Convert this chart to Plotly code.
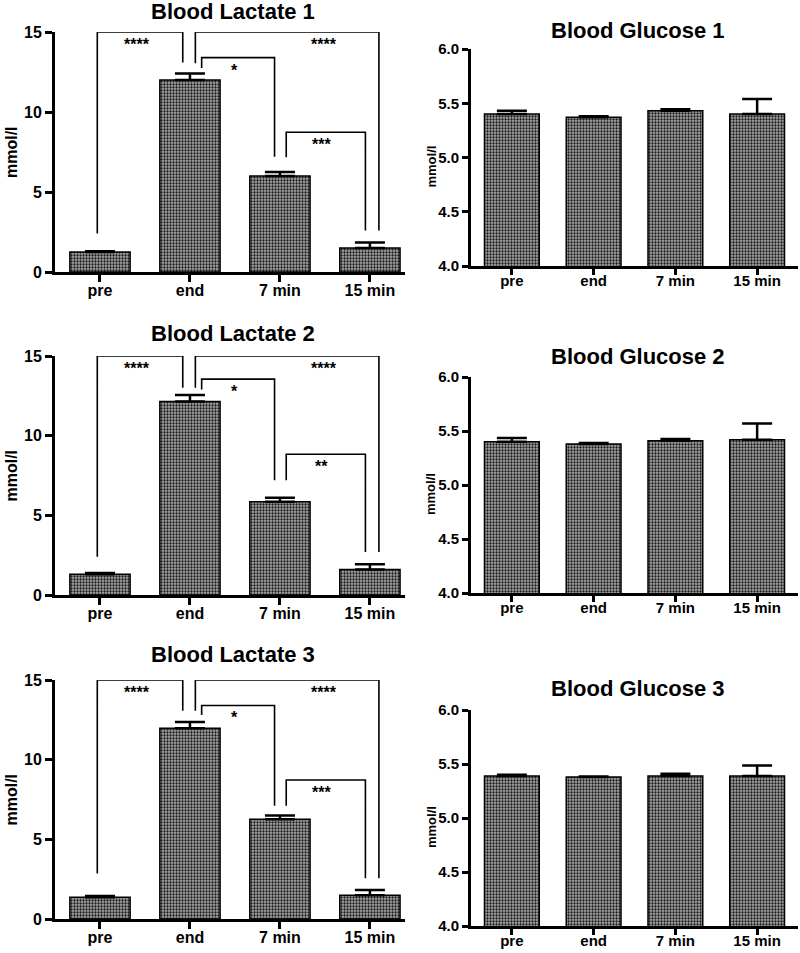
import plotly.graph_objects as go

W, H = 800, 953
categories = ["pre", "end", "7 min", "15 min"]

# ---- data ----
lactate1_mean = [1.25, 12.0, 6.0, 1.5]
lactate1_err = [0.05, 0.4, 0.25, 0.35]
lactate2_mean = [1.3, 12.15, 5.85, 1.6]
lactate2_err = [0.08, 0.4, 0.25, 0.33]
lactate3_mean = [1.36, 11.97, 6.26, 1.49]
lactate3_err = [0.08, 0.4, 0.23, 0.33]

glucose1_mean = [5.40, 5.37, 5.43, 5.40]
glucose1_err = [0.03, 0.01, 0.015, 0.14]
glucose2_mean = [5.40, 5.38, 5.41, 5.42]
glucose2_err = [0.035, 0.01, 0.015, 0.15]
glucose3_mean = [5.39, 5.38, 5.39, 5.39]
glucose3_err = [0.01, 0.005, 0.02, 0.095]

lactate_titles = ["Blood Lactate 1", "Blood Lactate 2", "Blood Lactate 3"]
glucose_titles = ["Blood Glucose 1", "Blood Glucose 2", "Blood Glucose 3"]

lactate_ticks = [0, 5, 10, 15]
glucose_ticks = [4.0, 4.5, 5.0, 5.5, 6.0]

# significance brackets: (left leg x, right leg x) in category units
bracket_legs = [(-0.03, 0.92), (1.06, 3.1), (1.13, 1.94), (2.07, 2.95)]
bracket_label_x = [0.41, 2.49, 1.49, 2.46]
# per row: (top, left end, right end) for each bracket
bracket_levels = [
    [(15, 2.4, 13.1), (15, 13.05, 2.6), (13.4, 12.75, 7.2), (8.73, 7.17, 2.6)],
    [(15, 2.4, 13.0), (15, 13.0, 2.7), (13.55, 12.9, 7.2), (8.83, 7.2, 2.7)],
    [(15, 2.85, 13.07), (15, 13.07, 2.55), (13.4, 12.8, 7.1), (8.72, 7.1, 2.55)],
]
bracket_labels = [
    ["****", "****", "*", "***"],
    ["****", "****", "*", "**"],
    ["****", "****", "*", "***"],
]

lactate_means = [lactate1_mean, lactate2_mean, lactate3_mean]
lactate_errs = [lactate1_err, lactate2_err, lactate3_err]
glucose_means = [glucose1_mean, glucose2_mean, glucose3_mean]
glucose_errs = [glucose1_err, glucose2_err, glucose3_err]

# ---- layout in pixels ----
lac_x = (55, 405)
glu_x = (471, 798)
lac_y = [(32, 272), (356, 595), (680, 919)]
glu_y = [(49, 266), (377, 593), (710, 926)]
lac_title_y = [12, 333, 654]
glu_title_y = [30, 357, 688]

FONT = "Liberation Sans, Arial, sans-serif"

def xd(px):
    return [px[0] / W, px[1] / W]

def yd(px):
    return [1 - px[1] / H, 1 - px[0] / H]

fig = go.Figure()
pattern = dict(shape=".", size=3, solidity=0.45, fgcolor="#1a1a1a", bgcolor="#a8a8a8", fillmode="replace")

annotations = []
shapes = []
layout = {}

for r in range(3):
    ia = 2 * r + 1
    ib = 2 * r + 2
    panels = [
        (ia, lactate_means[r], lactate_errs[r], lac_x, lac_y[r], [0, 15], lactate_ticks, "d",
         lactate_titles[r], lac_title_y[r], 16, 11, 0, 3.39, 16, 16, -5, 7),
        (ib, glucose_means[r], glucose_errs[r], glu_x, glu_y[r], [4, 6], glucose_ticks, ".1f",
         glucose_titles[r], glu_title_y[r], 13, 431, 9, 3.5, 15, 15, -7, 6),
    ]
    for (idx, means, errs, xdom, ydom, yr, ticks, tfmt, title, title_y, ytitle_size, ytitle_x,
         ytitle_dy, xmax, xfs, yfs, xstand, tlen) in panels:
        xa = "x" if idx == 1 else f"x{idx}"
        ya = "y" if idx == 1 else f"y{idx}"
        fig.add_trace(go.Bar(
            x=categories, y=means, xaxis=xa, yaxis=ya,
            marker=dict(color="#888888", pattern=pattern, line=dict(color="black", width=1.5)),
            error_y=dict(type="data", array=errs, arrayminus=[0] * len(errs), symmetric=False,
                         color="black", thickness=2.5, width=15),
            showlegend=False, hoverinfo="skip",
        ))
        xk = "xaxis" if idx == 1 else f"xaxis{idx}"
        yk = "yaxis" if idx == 1 else f"yaxis{idx}"
        layout[xk] = dict(domain=xd(xdom), anchor=ya, range=[-0.5, xmax], automargin=False,
                          showline=True, linewidth=3, linecolor="black", ticks="outside",
                          ticklen=tlen, tickwidth=2.5, tickcolor="black", showgrid=False, zeroline=False,
                          ticklabelstandoff=xstand,
                          tickfont=dict(family=FONT, size=xfs, color="black", weight="bold"),
                          fixedrange=True)
        layout[yk] = dict(domain=yd(ydom), anchor=xa, range=yr, tickvals=ticks, tickformat=tfmt,
                          automargin=False,
                          showline=True, linewidth=3, linecolor="black", ticks="outside",
                          ticklen=tlen, tickwidth=2.5, tickcolor="black", showgrid=False, zeroline=False,
                          tickfont=dict(family=FONT, size=yfs, color="black", weight="bold"),
                          fixedrange=True)
        annotations.append(dict(text=title, xref="paper", yref="paper",
                                x=(xdom[0] + xdom[1]) / 2 / W + 3 / W,
                                y=1 - title_y / H, xanchor="center", yanchor="middle",
                                showarrow=False, font=dict(family=FONT, size=22, color="black", weight="bold")))
        annotations.append(dict(text="mmol/l", xref="paper", yref="paper", textangle=-90,
                                x=ytitle_x / W, y=1 - ((ydom[0] + ydom[1]) / 2 + ytitle_dy) / H,
                                xanchor="center", yanchor="middle", showarrow=False,
                                font=dict(family=FONT, size=ytitle_size, color="black", weight="bold")))

    xa = "x" if ia == 1 else f"x{ia}"
    ya = "y" if ia == 1 else f"y{ia}"
    for b in range(4):
        x0, x1 = bracket_legs[b]
        top, yl, yrr = bracket_levels[r][b]
        shapes.append(dict(type="path", xref=xa, yref=ya,
                           path=f"M {x0},{yl} L {x0},{top} L {x1},{top} L {x1},{yrr}",
                           line=dict(color="black", width=1.6)))
        annotations.append(dict(text=bracket_labels[r][b], xref=xa, yref=ya, x=bracket_label_x[b], y=top,
                                xanchor="center", yanchor="top", yshift=-2, showarrow=False,
                                font=dict(family=FONT, size=16, color="black", weight="bold")))

fig.update_layout(
    width=W, height=H, margin=dict(l=0, r=0, t=0, b=0, autoexpand=False),
    paper_bgcolor="white", plot_bgcolor="white",
    bargap=0.33, annotations=annotations, shapes=shapes,
    **layout,
)

fig.write_html(
    "out.html",
    config={"displayModeBar": False},
    post_script="document.body.style.margin='0';document.body.style.overflow='hidden';",
)
